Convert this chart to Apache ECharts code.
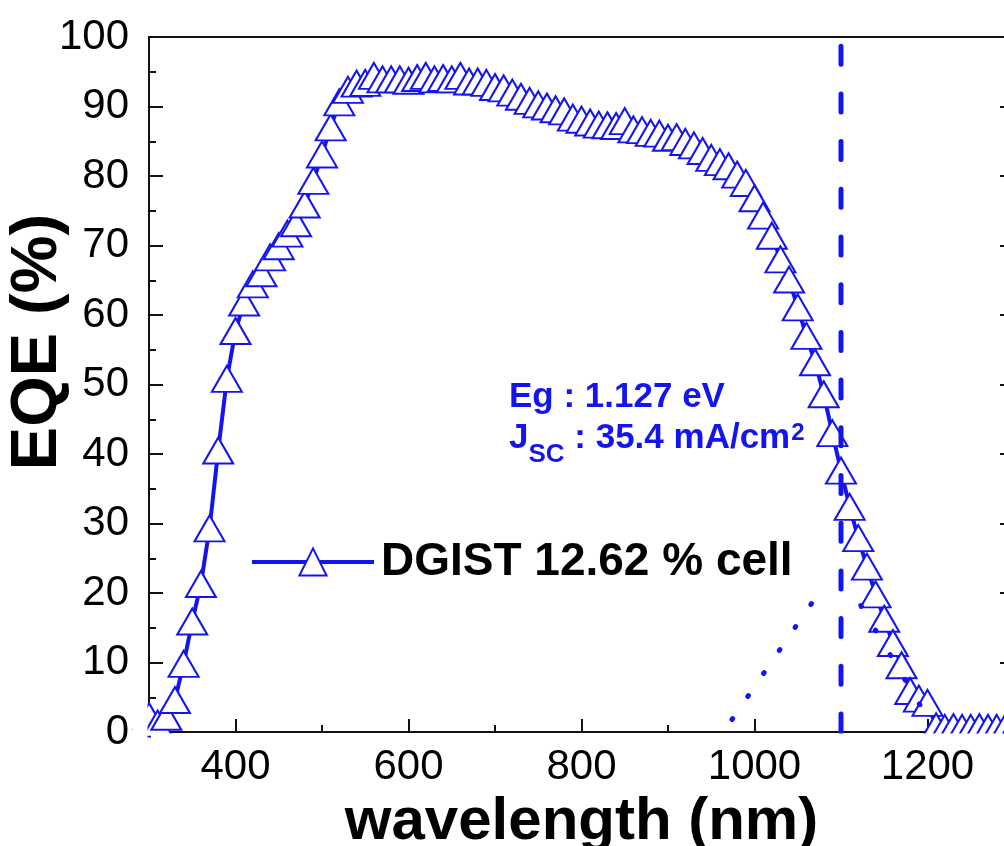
<!DOCTYPE html>
<html>
<head>
<meta charset="utf-8">
<script src="https://cdn.jsdelivr.net/npm/echarts@6/dist/echarts.min.js"></script>
<style>html,body{margin:0;padding:0;background:#fff}#c{width:1004px;height:846px}</style>
</head>
<body>
<div id="c"></div>
<script>
// ---- data ----
const wavelengths = [300,310,320,330,340,350,360,370,380,390,400,410,420,430,440,450,460,470,480,490,
  500,510,520,530,540,550,560,570,580,590,600,610,620,630,640,650,660,670,680,690,
  700,710,720,730,740,750,760,770,780,790,800,810,820,830,840,850,860,870,880,890,
  900,910,920,930,940,950,960,970,980,990,1000,1010,1020,1030,1040,1050,1060,1070,1080,1090,
  1100,1110,1120,1130,1140,1150,1160,1170,1180,1190,1200,1210,1220,1230,1240,1250,1260,1270,1280,1290,1300];
const eqe = [2.3,1.2,2.2,4.6,9.8,15.9,21.3,29.3,40.5,50.8,57.7,61.8,64.4,66.0,68.3,69.9,71.7,73.2,75.9,79.3,
  83.1,87.0,90.6,92.4,93.3,93.4,94.4,93.9,93.9,93.9,93.7,94.1,94.4,93.9,94.1,93.9,94.4,93.6,93.6,93.4,
  92.8,92.6,92.0,91.4,90.8,90.3,90.0,89.6,89.3,88.4,88.1,87.7,87.4,87.3,87.2,87.9,86.7,86.6,86.2,86.1,
  85.5,85.6,84.9,84.4,83.6,82.6,82.0,81.4,80.2,79.0,76.8,74.3,71.4,68.0,65.1,61.1,57.0,53.2,48.6,43.0,
  37.6,32.4,27.9,23.8,19.8,16.3,12.8,9.6,5.9,4.8,4.2,0.8,0.6,0.7,0.6,0.6,0.7,0.6,0.6,0.7,0.6];
const edgeFitLeftX = [974, 1066];
const edgeFitLeftY = [1.8, 18.5];
const edgeFitRightX = [1123, 1207];
const edgeFitRightY = [18.2, 0.6];
const bandgapX = [1100, 1100];
const bandgapY = [0, 100];
const xMajorTicks = [400, 600, 800, 1000, 1200];
const xMinorTicks = [500, 700, 900, 1100];
const seriesName = 'DGIST 12.62 % cell';
const xTitle = 'wavelength (nm)';
const yTitle = 'EQE (%)';
const noteEg = 'Eg : 1.127 eV';

const FONT = '"Liberation Sans", Arial, Helvetica, sans-serif';
const BLUE = '#1414f0';
const AX = '#111';

const zip = (a, b) => a.map((v, i) => [v, b[i]]);

const chart = echarts.init(document.getElementById('c'), null, {renderer: 'canvas'});

const axisLineStyle = {color: AX, width: 2};
chart.setOption({
  animation: false,
  backgroundColor: '#fff',
  grid: {left: 149, top: 37, width: 865, height: 695, containLabel: false, outerBoundsMode: 'none'},
  legend: {
    data: [seriesName], left: 250, top: 539, padding: 0, itemWidth: 122, itemHeight: 34,
    selectedMode: false,
    lineStyle: {width: 4, color: BLUE},
    itemStyle: {color: '#fff', borderColor: BLUE, borderWidth: 2},
    textStyle: {fontSize: 46, fontWeight: 'bold', color: '#000', fontFamily: FONT, padding: [0, 0, 0, 2]}
  },
  xAxis: [
    {
      type: 'value', min: 300, max: 1300, position: 'bottom',
      axisLine: {show: true, onZero: false, lineStyle: axisLineStyle},
      axisTick: {show: true, inside: true, length: 13, lineStyle: axisLineStyle, customValues: xMajorTicks},
      axisLabel: {show: true, customValues: xMajorTicks, fontSize: 42, color: '#000', fontFamily: FONT, margin: 14,
        formatter: v => String(v)},
      splitLine: {show: false},
      name: xTitle, nameLocation: 'middle', nameGap: 47,
      nameTextStyle: {fontSize: 60, fontWeight: 'bold', color: '#000', fontFamily: FONT}
    },
    {
      type: 'value', min: 300, max: 1300, position: 'bottom',
      axisLine: {show: false, onZero: false},
      axisTick: {show: true, inside: true, length: 7, lineStyle: axisLineStyle, customValues: xMinorTicks},
      axisLabel: {show: false}, splitLine: {show: false}
    },
    {
      type: 'value', min: 300, max: 1300, position: 'top',
      axisLine: {show: true, onZero: false, lineStyle: axisLineStyle},
      axisTick: {show: false}, axisLabel: {show: false}, splitLine: {show: false}
    }
  ],
  yAxis: [
    {
      type: 'value', min: 0, max: 100, interval: 10, position: 'left',
      axisLine: {show: true, onZero: false, lineStyle: axisLineStyle},
      axisTick: {show: true, inside: true, length: 14, lineStyle: axisLineStyle},
      minorTick: {show: true, splitNumber: 2, length: 7, lineStyle: axisLineStyle},
      axisLabel: {fontSize: 42, color: '#000', fontFamily: FONT, margin: 20},
      splitLine: {show: false}, minorSplitLine: {show: false}
    },
    {
      type: 'value', min: 0, max: 100, interval: 10, position: 'right',
      axisLine: {show: true, onZero: false, lineStyle: axisLineStyle},
      axisTick: {show: true, inside: true, length: 14, lineStyle: axisLineStyle},
      minorTick: {show: true, splitNumber: 2, length: 7, lineStyle: axisLineStyle},
      axisLabel: {show: false}, splitLine: {show: false}, minorSplitLine: {show: false}
    }
  ],
  series: [
    {
      name: seriesName, type: 'line', xAxisIndex: 0, yAxisIndex: 0,
      data: zip(wavelengths, eqe),
      symbol: 'triangle', symbolSize: [30, 26], showAllSymbol: true,
      itemStyle: {color: '#fff', borderColor: BLUE, borderWidth: 2},
      lineStyle: {color: BLUE, width: 4},
      z: 2
    },
    {
      name: 'edgeL', type: 'line', data: zip(edgeFitLeftX, edgeFitLeftY), symbol: 'none',
      lineStyle: {color: BLUE, width: 5, type: [1, 26.9], cap: 'round'}, z: 4
    },
    {
      name: 'edgeR', type: 'line', data: zip(edgeFitRightX, edgeFitRightY), symbol: 'none',
      lineStyle: {color: BLUE, width: 5, type: [1, 27.6], cap: 'round'}, z: 4
    },
    {
      name: 'Eg', type: 'line', data: zip(bandgapX, bandgapY), symbol: 'none',
      lineStyle: {color: BLUE, width: 5, type: [18, 29.7], cap: 'round'}, z: 4
    }
  ]
});

const y0 = chart.convertToPixel({yAxisIndex: 0}, 0);
const xl = chart.convertToPixel({xAxisIndex: 0}, 300);
chart.setOption({
  graphic: [
    {type: 'rect', z: 100, silent: true, shape: {x: xl + 2, y: y0 + 1.5, width: 1004, height: 12},
      style: {fill: '#fff'}},
    {type: 'rect', z: 100, silent: true, shape: {x: xl - 16, y: y0 - 30, width: 14.5, height: 44},
      style: {fill: '#fff'}},
    {type: 'text', z: 100, x: 38.5, y: 342, rotation: Math.PI / 2,
      style: {text: yTitle, fill: '#000', fontSize: 65, fontWeight: 'bold', fontFamily: FONT,
        align: 'center', verticalAlign: 'middle', textAlign: 'center', textVerticalAlign: 'middle'}},
    {type: 'text', z: 100, x: 509, y: 397,
      style: {text: noteEg, fill: BLUE, fontSize: 35, fontWeight: 'bold', fontFamily: FONT,
        align: 'left', verticalAlign: 'middle', textAlign: 'left', textVerticalAlign: 'middle'}},
    {type: 'text', z: 100, x: 509, y: 421,
      style: {
        text: '{m|J}{s|SC}{m| : 35.4 mA/cm}{p|2}',
        align: 'left', verticalAlign: 'top', textAlign: 'left', textVerticalAlign: 'top',
        rich: {
          m: {fontSize: 35, fontWeight: 'bold', fontFamily: FONT, fill: BLUE, lineHeight: 40, verticalAlign: 'top'},
          s: {fontSize: 26, fontWeight: 'bold', fontFamily: FONT, fill: BLUE, lineHeight: 26, verticalAlign: 'top', padding: [21, 0, 0, 0]},
          p: {fontSize: 24, fontWeight: 'bold', fontFamily: FONT, fill: BLUE, lineHeight: 24, verticalAlign: 'top', padding: [0, 0, 0, 1]}
        }
      }}
  ]
});
</script>
</body>
</html>
